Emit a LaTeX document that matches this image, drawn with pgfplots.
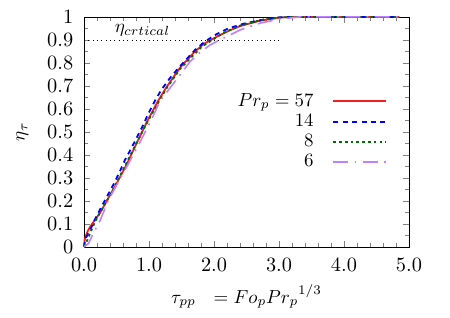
\RequirePackage{fix-cm}
\documentclass[border=0pt]{standalone}
\usepackage{pgfplots}
\pgfplotsset{compat=1.18}
\definecolor{cred}{RGB}{245,30,30}
\definecolor{cblue}{RGB}{0,0,255}
\definecolor{cgreen}{RGB}{0,110,0}
\definecolor{cpurple}{RGB}{190,130,255}
\begin{document}
\begin{tikzpicture}
\begin{axis}[
  scale only axis,
  width=180.6pt, height=127.8pt,
  xmin=0, xmax=5, ymin=0, ymax=1,
  xtick={0,1,2,3,4,5},
  ytick={0,0.1,0.2,0.3,0.4,0.5,0.6,0.7,0.8,0.9,1},
  minor x tick num=4,
  minor y tick num=1,
  tick align=inside,
  major tick length=3.5pt,
  minor tick length=2pt,
  tick label style={font=\fontsize{11.3}{13}\selectfont},
  xticklabel style={/pgf/number format/.cd, fixed, fixed zerofill, precision=1, /tikz/.cd, yshift=-3pt},
  yticklabel style={xshift=-2.5pt},
  xlabel={$\tau_{pp}\ \ = Fo_p{Pr_p}^{1/3}$},
  ylabel={$\eta_\tau$},
  label style={font=\fontsize{10.5}{12}\selectfont},
  xlabel style={at={(axis description cs:0.5,-0.217)}, anchor=center},
  ylabel style={at={(axis description cs:-0.19,0.5)}, anchor=center},
  clip=false,
  legend plot pos=right,
  legend cell align=right,
  legend style={draw=none, fill=none, inner sep=0pt, at={(axis cs:4.66,0.502)}, anchor=east,
    row sep=0pt, nodes={inner sep=1.5pt}, font=\fontsize{10.5}{12}\selectfont},
  legend image code/.code={\path (0pt,0pt); \draw[#1] (9pt,0pt) -- (38pt,0pt);},
]
\addplot[cred, line width=1pt] coordinates {(0,0) (0.01,0.03) (0.03,0.05) (0.06,0.07) (0.1,0.09) (0.15,0.11) (0.25,0.15) (0.35,0.2) (0.5,0.275) (0.65,0.355) (0.8,0.445) (0.97,0.545) (1.14,0.635) (1.27,0.695) (1.48,0.78) (1.69,0.845) (1.84,0.882) (2.05,0.915) (2.23,0.94) (2.4,0.96) (2.7,0.983) (3.0,0.997) (3.2,1.0) (4.85,1.0)};
\addlegendentry{$Pr_p = 57$}
\addplot[cblue, line width=1pt, dash pattern=on 2.8pt off 2.4pt] coordinates {(0,0) (0.02,0.035) (0.05,0.05) (0.08,0.065) (0.17,0.12) (0.27,0.175) (0.45,0.27) (0.55,0.327) (0.63,0.378) (0.73,0.43) (0.91,0.53) (0.99,0.58) (1.09,0.635) (1.19,0.683) (1.32,0.733) (1.45,0.777) (1.71,0.857) (1.86,0.893) (2.04,0.925) (2.22,0.95) (2.45,0.97) (2.68,0.984) (2.89,0.995) (3.1,1.0) (4.85,1.0)};
\addlegendentry{$14$}
\addplot[cgreen, line width=1pt, dash pattern=on 1.5pt off 1.7pt] coordinates {(0,0) (0.03,0.015) (0.07,0.043) (0.17,0.11) (0.3,0.175) (0.43,0.24) (0.6,0.335) (0.78,0.436) (0.96,0.535) (1.12,0.617) (1.27,0.69) (1.48,0.775) (1.81,0.87) (2.14,0.93) (2.4,0.962) (2.7,0.985) (3.0,0.997) (3.2,1.0) (4.85,1.0)};
\addlegendentry{$8$}
\addplot[cpurple, line width=0.9pt, dash pattern=on 8.3pt off 3.5pt on 1pt off 3.5pt] coordinates {(0,0) (0.07,0.015) (0.14,0.058) (0.25,0.116) (0.37,0.2) (0.5,0.268) (0.68,0.36) (0.86,0.455) (1.04,0.555) (1.17,0.635) (1.32,0.69) (1.48,0.748) (1.63,0.805) (1.78,0.845) (1.94,0.878) (2.09,0.9) (2.2,0.915) (2.4,0.943) (2.71,0.973) (3.0,0.99) (3.32,1.0) (4.85,1.0)};
\addlegendentry{$6$}
\addplot[black, dotted, forget plot] coordinates {(0,0.9) (3,0.9)};
\node[font=\fontsize{10.5}{12}\selectfont] at (axis cs:0.9,0.94) {$\eta_{crtical}$};
\end{axis}
\pgfresetboundingbox
\path[use as bounding box] ([shift={(-46.7pt,-39.4pt)}]current axis.south west) rectangle ([shift={(22.8pt,9.4pt)}]current axis.north east);
\end{tikzpicture}
\end{document}
